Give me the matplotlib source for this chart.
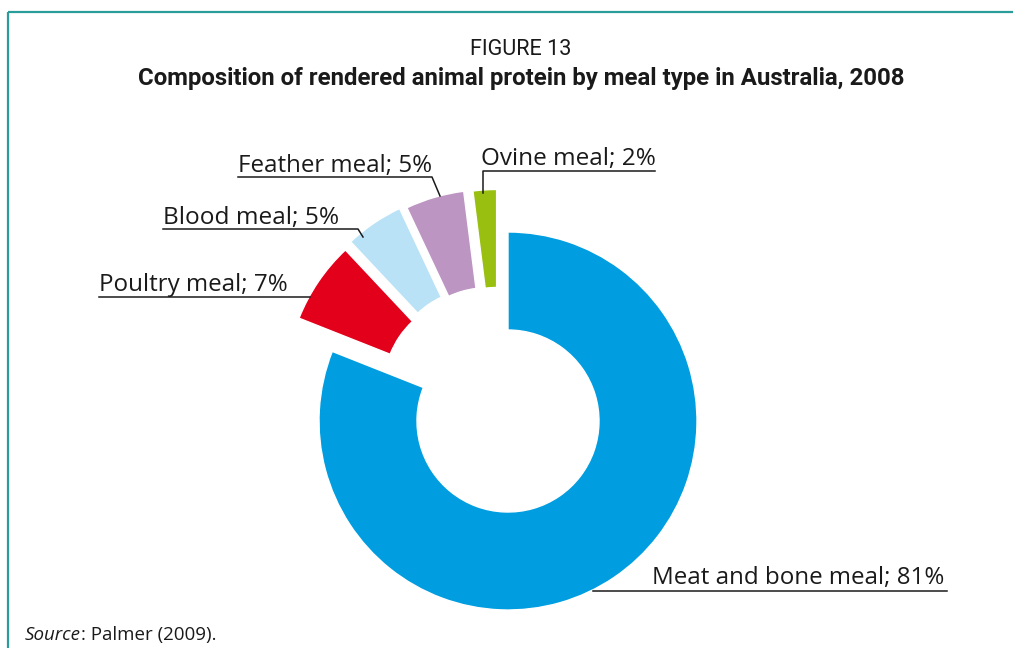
import matplotlib
matplotlib.use("Agg")
import matplotlib.pyplot as plt
import numpy as np

# ---- data ----
categories = ["Meat and bone meal", "Poultry meal", "Blood meal", "Feather meal", "Ovine meal"]
shares = [81, 7, 5, 5, 2]
colors = ["#009EE0", "#E2001A", "#B9E2F6", "#BD95C3", "#99BF10"]
label_texts = [f"{c}; {v}%" for c, v in zip(categories, shares)]

W, H = 1013, 648
fig = plt.figure(figsize=(W / 100, H / 100), dpi=100)
ax = fig.add_axes([0, 0, 1, 1])

def Y(y):
    return H - y

cx, cy = 508, Y(421)
R, ring = 189, 98

wedges, _ = ax.pie(shares, colors=colors, startangle=90, counterclock=False,
                   radius=R, center=(cx, cy),
                   wedgeprops=dict(width=ring, edgecolor="white", linewidth=1.0))

# pull-out of the small slices (distance px, direction deg)
pulls = {1: (47, 135), 2: (50, 124), 3: (47, 116), 4: (44, 105)}
for i, (d, a) in pulls.items():
    t = np.deg2rad(a)
    wedges[i].set_center((cx + d * np.cos(t), cy + d * np.sin(t)))

ax.set_xlim(0, W)
ax.set_ylim(0, H)
ax.set_aspect("auto")
ax.axis("off")

renderer = fig.canvas.get_renderer()

def fit_text(x, y, s, target_w, size0=16, **kw):
    t = ax.text(x, y, s, fontsize=size0, **kw)
    w = t.get_window_extent(renderer).width
    t.set_fontsize(size0 * target_w / w)
    return t

txtc = "#1a1a1a"
font = "Open Sans"

# frame
fc = "#2A9D9A"
ax.plot([8, 8], [Y(12), 0], color=fc, lw=1.6, solid_capstyle="butt")
ax.plot([8, W], [Y(12), Y(12)], color=fc, lw=1.6, solid_capstyle="butt")

# titles
fit_text(521, Y(55), "FIGURE 13", 102, family="Roboto", ha="center",
         va="baseline", color=txtc)
fit_text(521, Y(85), "Composition of rendered animal protein by meal type in Australia, 2008",
         772, family="Roboto", fontweight="bold", ha="center", va="baseline", color=txtc)

# labels: (text index, text x, baseline y, width, underline x0, x1, y, leader end)
lab = [
    (0, 652, 584, 293, 593, 947, 591, None),
    (1, 99, 291, 189, 99, 310, 297, None),
    (2, 163, 224, 175, 163, 358, 229, (363, 237)),
    (3, 238, 172, 194, 238, 432, 177, (440, 196)),
    (4, 481, 165, 174, 483, 655, 171, (483, 193)),
]
for i, tx, by, tw, ux0, ux1, uy, lead in lab:
    fit_text(tx, Y(by), label_texts[i], tw, family=font, ha="left",
             va="baseline", color=txtc)
    xs = [ux0, ux1]
    ys = [Y(uy), Y(uy)]
    if lead is not None:
        if i == 4:
            xs = [lead[0], ux0, ux1]
            ys = [Y(lead[1]), Y(uy), Y(uy)]
        else:
            xs = [ux0, ux1, lead[0]]
            ys = [Y(uy), Y(uy), Y(lead[1])]
    ax.plot(xs, ys, color=txtc, lw=1.1)

# source
src_size = 13.5
t1 = ax.text(25, Y(640), "Source", fontsize=src_size, family=font, style="italic",
             color=txtc, ha="left", va="baseline")
w1 = t1.get_window_extent(renderer).width
ax.text(25 + w1, Y(640), ": Palmer (2009).", fontsize=src_size, family=font,
        color=txtc, ha="left", va="baseline")

fig.savefig("out.png", dpi=100)
